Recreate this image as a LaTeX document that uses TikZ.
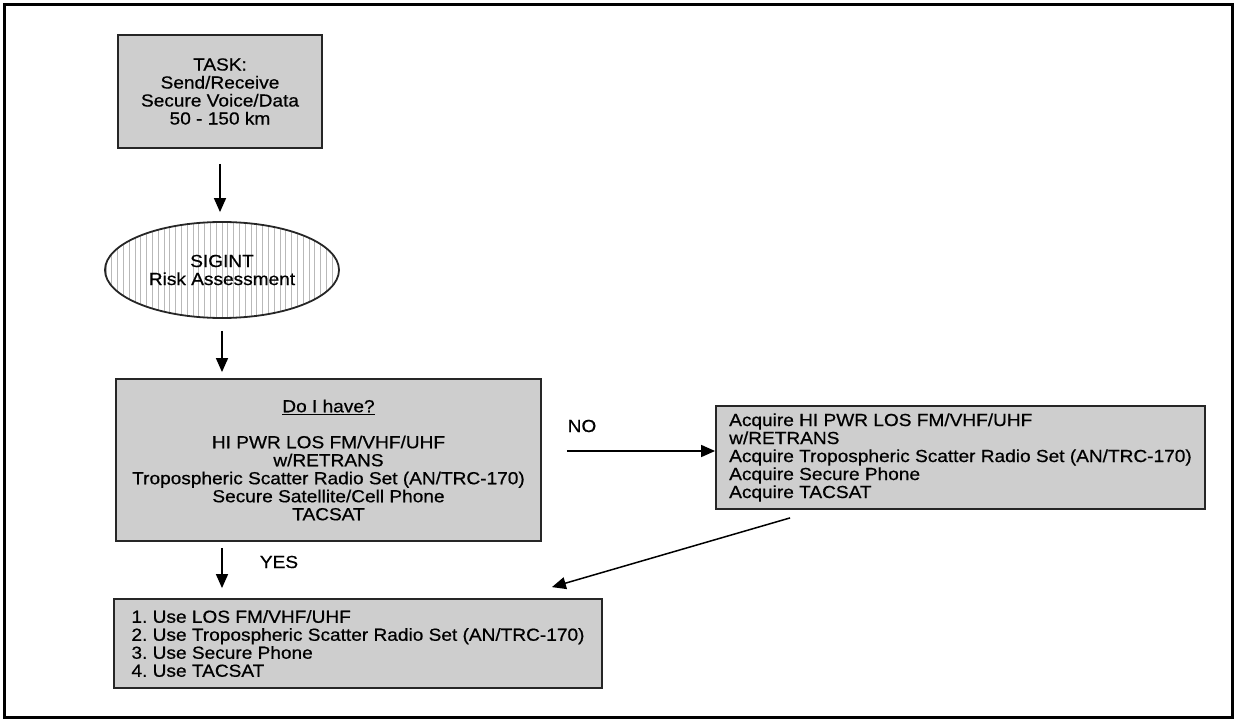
\documentclass[tikz,border=0pt]{standalone}
\usepackage{fontspec}
\setmainfont[FakeStretch=1.09,FakeBold=0.6]{Liberation Sans}
\usetikzlibrary{arrows.meta,shapes.geometric,calc}
\definecolor{boxgray}{RGB}{206,206,206}
\frenchspacing

\begin{document}
\begin{tikzpicture}[x=1pt,y=-1pt,
  box/.style={draw=black!85, line width=1.8pt, fill=boxgray, inner sep=0pt, font=\fontsize{17.5}{18}\selectfont},
  lbl/.style={font=\fontsize{17.5}{18}\selectfont},
  arr/.style={line width=1.5pt, -{Triangle[length=14pt,width=12pt]}}]

\useasboundingbox (0,0) rectangle (1234,719);
\draw [line width=2.5pt] (4.5,4.5) rectangle (1232.5,717.5);

\node [box, minimum width=204pt, minimum height=113pt, align=center] (task) at (220,91.5)
  {TASK:\\Send/Receive\\Secure Voice/Data\\50 - 150 km};

\node [ellipse, draw=black!85, line width=1.8pt, minimum width=234pt, minimum height=96pt,
  inner sep=0pt, align=center, lbl,
  path picture={
    \foreach \i in {-21,...,21}
      \draw [gray!55, line width=0.7pt] ([xshift=\i*5.8pt]path picture bounding box.north)
        -- ([xshift=\i*5.8pt]path picture bounding box.south);
  }] (sigint) at (222,270) {SIGINT\\Risk Assessment};

\node [box, minimum width=425pt, minimum height=162pt, align=center] (have) at (328.5,460)
  {\underline{Do I have?}\\[18pt]HI PWR LOS FM/VHF/UHF\\w/RETRANS\\Tropospheric Scatter Radio Set (AN/TRC-170)\\Secure Satellite/Cell Phone\\TACSAT};

\node [box, minimum width=489pt, minimum height=103pt, align=left] (acquire) at (960.5,457.5)
  {Acquire HI PWR LOS FM/VHF/UHF\\w/RETRANS\\Acquire Tropospheric Scatter Radio Set (AN/TRC-170)\\Acquire Secure Phone\\Acquire TACSAT};

\node [box, minimum width=488pt, minimum height=89pt, align=left] (use) at (358,643.5)
  {1. Use LOS FM/VHF/UHF\\2. Use Tropospheric Scatter Radio Set (AN/TRC-170)\\3. Use Secure Phone\\4. Use TACSAT};

\node [lbl] (no) at (582,426) {NO};
\node [lbl] (yes) at (279,562) {YES};

\draw [arr, shorten <=15pt, shorten >=9pt] (task.south) -- (task.south |- sigint.north);
\draw [arr, shorten <=12pt, shorten >=6pt] (sigint.south) -- (sigint.south |- have.north);
\draw [arr, shorten <=25pt] ($(have.east)+(0,-9)$) -- ($(acquire.west)+(0,-6.5)$);
\draw [arr, shorten <=6pt, shorten >=10pt] (sigint.south |- have.south) -- (sigint.south |- use.north);
\draw [arr] ($(acquire.south west)+(75,8)$) -- ($(use.north east)+(-51,-11)$);

\end{tikzpicture}
\end{document}
